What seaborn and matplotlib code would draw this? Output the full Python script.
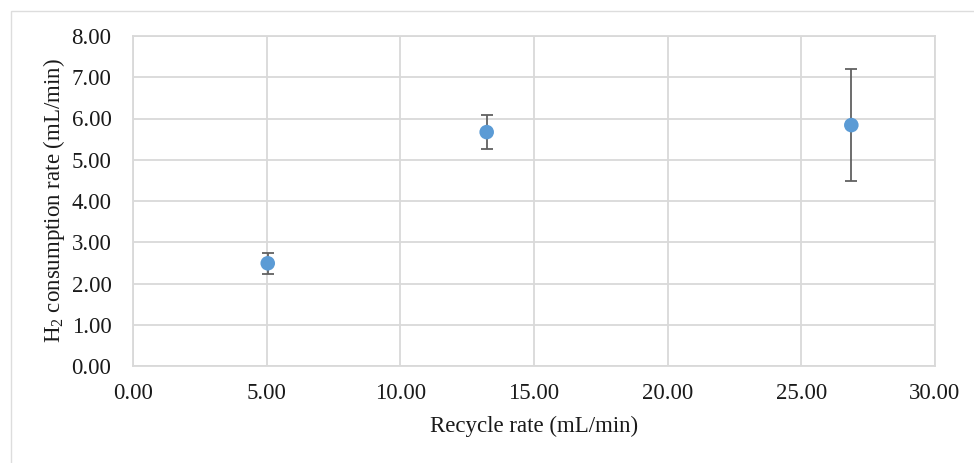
import matplotlib
matplotlib.use("Agg")
import matplotlib.pyplot as plt
from matplotlib.patches import Rectangle
import seaborn as sns
import pandas as pd

# Measured data
recycle_rate = [5.04, 13.23, 26.87]          # mL/min
h2_consumption = [2.49, 5.67, 5.84]          # mL/min
h2_error = [0.25, 0.41, 1.35]                # mL/min (± error)

x_ticks = [0, 5, 10, 15, 20, 25, 30]
y_ticks = [0, 1, 2, 3, 4, 5, 6, 7, 8]

df = pd.DataFrame({"recycle": recycle_rate, "h2": h2_consumption, "err": h2_error})

sns.set_theme(style="white")
plt.rcParams["font.family"] = ["Liberation Serif", "DejaVu Serif"]
plt.rcParams["mathtext.fontset"] = "custom"
plt.rcParams["mathtext.rm"] = "Liberation Serif"
plt.rcParams["mathtext.it"] = "Liberation Serif:italic"

grid_col = "#D9D9D9"
text_col = "#1a1a1a"
fs = 16.5

fig = plt.figure(figsize=(9.74, 4.63), dpi=100)
fig.patch.set_facecolor("white")
ax = fig.add_axes([133 / 974, 1 - 366 / 463, (935 - 133) / 974, (366 - 36) / 463])

# Outer chart-area frame
fig.patches.append(Rectangle((10.5 / 974, -0.2), 1.2, (463 - 10.5) / 463 + 0.2,
                             transform=fig.transFigure, fill=False,
                             edgecolor="#DDDDDD", linewidth=1.0, zorder=0))

ax.errorbar(df["recycle"], df["h2"], yerr=df["err"], fmt="none",
            ecolor="#616161", elinewidth=1.3, capsize=4.2, capthick=1.3, zorder=3)
sns.scatterplot(data=df, x="recycle", y="h2", ax=ax, s=110, color="#5B9BD5",
                edgecolor="none", linewidth=0, zorder=4)

ax.set_xlim(0, 30)
ax.set_ylim(0, 8)
ax.set_xticks(x_ticks)
ax.set_yticks(y_ticks)
ax.set_xticklabels([f"{v:.2f}" for v in x_ticks])
ax.set_yticklabels([f"{v:.2f}" for v in y_ticks])
ax.grid(True, color=grid_col, linewidth=1.3)
ax.set_axisbelow(True)
for s in ax.spines.values():
    s.set_color(grid_col)
    s.set_linewidth(1.3)
ax.tick_params(axis="both", length=0, labelsize=fs, colors=text_col)
ax.tick_params(axis="y", pad=15.5)
ax.tick_params(axis="x", pad=12)

ax.set_xlabel("Recycle rate (mL/min)", fontsize=fs, color=text_col, labelpad=9)
ax.set_ylabel("H$_2$ consumption rate (mL/min)", fontsize=fs, color=text_col, labelpad=3)

fig.savefig("out.png", dpi=100, facecolor="white")
